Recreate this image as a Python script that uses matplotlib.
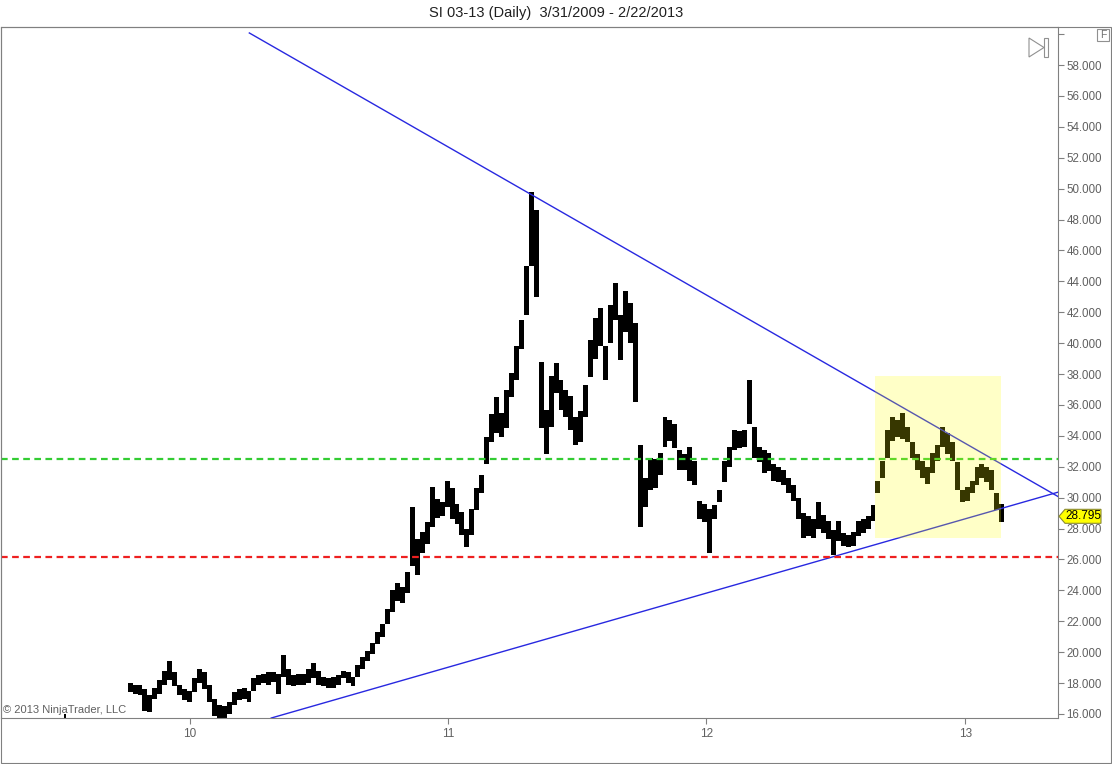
'''
Script used to recreate the NinjaTrader daily chart of SI 03-13 (silver futures)
'''
import pandas as pd
import matplotlib
matplotlib.use('Agg')
import matplotlib.pyplot as plt
import matplotlib.dates as mdates
from matplotlib.patches import Polygon, Rectangle

# ---------------------------------
# weekly price ranges, weeks start on Monday
week_start = '2009-10-05'
week_low   = [
    17.4, 17.3, 17.2, 16.2, 16.1, 17.0, 17.3, 17.9, 18.2, 17.8,
    17.2, 16.9, 16.8, 17.4, 18.0, 17.6, 16.8, 15.9, 15.6, 15.7,
    16.0, 16.6, 16.9, 17.0, 16.8, 17.5, 17.9, 18.0, 17.9, 18.1,
    17.3, 18.4, 17.9, 17.8, 17.9, 17.9, 18.0, 18.3, 17.9, 17.8,
    17.7, 17.7, 17.9, 18.3, 18.0, 17.8, 18.4, 18.9, 19.4, 19.9,
    20.5, 21.0, 21.8, 22.6, 23.3, 23.2, 23.8, 25.6, 25.0, 26.4,
    27.0, 28.1, 28.7, 28.8, 29.4, 28.6, 28.3, 27.6, 26.8, 27.6,
    29.2, 30.3, 32.2, 33.6, 34.2, 33.9, 34.5, 36.5, 37.6, 39.6,
    41.8, 45.0, 43.0, 34.5, 32.8, 34.6, 36.8, 35.7, 35.2, 34.4,
    33.4, 33.6, 35.2, 37.8, 39.0, 39.8, 37.6, 40.0, 41.5, 38.9,
    40.7, 40.0, 36.2, 28.1, 29.4, 30.5, 30.6, 31.5, 33.3, 33.7,
    33.2, 31.8, 31.8, 31.1, 30.8, 28.6, 28.4, 26.4, 28.6, 29.7,
    31.0, 32.0, 33.1, 33.2, 33.3, 34.8, 32.6, 32.3, 31.6, 31.7,
    31.1, 31.0, 30.8, 30.3, 29.8, 28.6, 27.4, 27.5, 27.4, 28.0,
    27.7, 27.3, 26.3, 27.2, 26.9, 26.8, 26.9, 27.5, 27.7, 28.0,
    28.5, 30.3, 31.3, 32.6, 33.7, 33.9, 33.8, 33.6, 32.6, 31.8,
    31.3, 30.9, 31.6, 32.4, 33.3, 32.8, 32.4, 30.5, 29.7, 29.8,
    30.3, 30.8, 31.3, 31.0, 30.5, 29.2, 28.4,
]
week_high  = [
    18.0, 17.9, 17.9, 17.6, 17.2, 17.7, 18.2, 18.8, 19.4, 18.7,
    17.9, 17.6, 17.5, 18.3, 18.9, 18.7, 17.9, 17.0, 16.6, 16.5,
    16.8, 17.4, 17.6, 17.7, 17.5, 18.3, 18.5, 18.6, 18.7, 18.7,
    18.6, 19.8, 18.9, 18.5, 18.6, 18.6, 18.9, 19.3, 18.8, 18.4,
    18.3, 18.4, 18.5, 18.8, 18.7, 18.4, 19.2, 19.7, 20.1, 20.6,
    21.3, 21.8, 22.8, 24.0, 24.5, 24.2, 25.2, 29.4, 27.3, 27.8,
    28.4, 30.7, 29.9, 29.7, 31.1, 30.6, 29.6, 29.1, 28.0, 29.3,
    30.6, 31.5, 33.9, 35.4, 36.5, 35.5, 37.0, 38.1, 39.8, 41.5,
    45.0, 49.8, 48.6, 38.8, 35.7, 37.9, 38.7, 37.6, 37.0, 36.6,
    35.2, 35.6, 37.3, 40.2, 41.6, 42.3, 39.8, 42.5, 43.9, 41.8,
    43.4, 42.6, 41.3, 33.4, 31.3, 32.6, 32.5, 32.9, 35.2, 35.0,
    34.8, 33.1, 32.8, 33.3, 32.4, 29.8, 29.6, 29.3, 29.5, 30.5,
    32.4, 33.3, 34.4, 34.3, 34.4, 37.6, 34.6, 33.3, 33.1, 32.9,
    32.2, 32.0, 31.8, 31.3, 30.8, 30.0, 29.0, 28.8, 28.6, 29.7,
    28.9, 28.5, 27.9, 28.5, 27.7, 27.6, 27.8, 28.5, 28.6, 28.8,
    29.5, 31.1, 32.4, 34.4, 35.2, 35.0, 35.5, 34.6, 33.6, 32.8,
    32.4, 32.0, 32.9, 33.4, 34.6, 34.2, 33.6, 32.3, 30.5, 30.7,
    31.1, 32.0, 32.2, 32.0, 31.8, 30.3, 29.6,
]
early_day   = '2009-07-07'
early_low   = 15.75
early_high  = 16.0

last_price  = 28.795
support     = 26.15
resistance  = 32.48

upper_dates  = ['2010-03-26', '2013-05-13']
upper_prices = [60.08, 30.05]
lower_dates  = ['2010-04-26', '2013-05-13']
lower_prices = [15.74, 30.37]

box_dates  = ['2012-08-26', '2013-02-21']
box_prices = [27.4, 37.9]

year_ticks  = ['2010-01-01', '2011-01-01', '2012-01-01', '2013-01-01']
price_ticks = list(range(16, 61, 2))

title = 'SI 03-13 (Daily)  3/31/2009 - 2/22/2013'
# ---------------------------------
class Data:
    '''
    Layout settings
    '''
    width    : int   = 1112
    height   : int   = 764
    axis_col : str   = '#808080'
    text_col : str   = '#606060'
    font     : str   = 'Liberation Sans'
    xmin     : str   = '2009-04-09'
    xmax     : str   = '2013-05-12'
    ymin     : float = 15.741
    ymax     : float = 60.466
# ---------------------------------
def _fig_x(px : float) -> float:
    return px / Data.width
# ---------------------------------
def _fig_y(py : float) -> float:
    return 1 - py / Data.height
# ---------------------------------
def _make_axes():
    plt.rcParams['font.family'] = [Data.font, 'DejaVu Sans']
    fig = plt.figure(figsize=(Data.width / 100, Data.height / 100), dpi=100)
    ax  = fig.add_axes([_fig_x(1), _fig_y(718), _fig_x(1057), _fig_y(27) - _fig_y(718)])

    return fig, ax
# ---------------------------------
def _plot_bars(ax) -> None:
    dates  = pd.date_range(week_start, periods=len(week_low), freq='W-MON')
    lows   = pd.Series(week_low)
    highs  = pd.Series(week_high)
    ax.bar(dates, highs - lows, bottom=lows, width=7, align='edge',
           color='black', linewidth=0, zorder=2)

    ax.bar([pd.Timestamp(early_day)], [early_high - early_low], bottom=[early_low],
           width=3, align='edge', color='black', linewidth=0, zorder=2)
# ---------------------------------
def _plot_lines(ax) -> None:
    ax.plot(pd.to_datetime(upper_dates), upper_prices, color='#2828e0', lw=1.0, zorder=3)
    ax.plot(pd.to_datetime(lower_dates), lower_prices, color='#2828e0', lw=1.0, zorder=3)

    ax.axhline(resistance, color='#33cc33', lw=1.6, dashes=(3, 2), zorder=3)
    ax.axhline(support   , color='#ee2020', lw=1.6, dashes=(3, 2), zorder=3)

    x0, x1 = mdates.date2num(pd.to_datetime(box_dates))
    rect   = Rectangle((x0, box_prices[0]), x1 - x0, box_prices[1] - box_prices[0],
                       facecolor='#ffff00', alpha=0.22, linewidth=0, zorder=4)
    ax.add_patch(rect)
# ---------------------------------
def _format_axes(ax) -> None:
    ax.set_xlim(pd.Timestamp(Data.xmin), pd.Timestamp(Data.xmax))
    ax.set_ylim(Data.ymin, Data.ymax)

    ax.set_xticks(pd.to_datetime(year_ticks))
    ax.xaxis.set_major_formatter(mdates.DateFormatter('%y'))

    ax.yaxis.tick_right()
    ax.set_yticks(price_ticks)
    ax.set_yticklabels([f'{val:.3f}' if val < 60 else '' for val in price_ticks])

    ax.tick_params(axis='both', colors=Data.axis_col, labelcolor=Data.text_col,
                   labelsize=8.3, length=4, width=0.8, direction='out', pad=2)
    ax.tick_params(axis='x', labelsize=8.5, pad=3)

    for spine in ax.spines.values():
        spine.set_color(Data.axis_col)
        spine.set_linewidth(0.8)
# ---------------------------------
def _add_marker(ax) -> None:
    trans = ax.get_yaxis_transform()
    unit  = 1 / 1057
    half  = 7 / 15.45
    pts   = [(1 + 1 * unit, last_price),
             (1 + 7 * unit, last_price + half),
             (1 + 43 * unit, last_price + half),
             (1 + 43 * unit, last_price - half),
             (1 + 7 * unit, last_price - half)]
    ax.add_patch(Polygon(pts, closed=True, transform=trans, clip_on=False,
                         facecolor='#ffff00', edgecolor='#8a8a30', lw=0.8, zorder=6))
    ax.text(1 + 25 * unit, last_price, f'{last_price:.3f}', transform=trans,
            ha='center', va='center', fontsize=8.5, color='black', zorder=7)
# ---------------------------------
def _add_decorations(fig, ax) -> None:
    fig.text(0.5, _fig_y(13), title, ha='center', va='center', fontsize=10.5, color='#202020')

    ax.text(0.002, 0.005, '\u00a9 2013 NinjaTrader, LLC', transform=ax.transAxes,
            ha='left', va='bottom', fontsize=8, color=Data.text_col, zorder=5)

    fig.add_artist(Rectangle((_fig_x(1), _fig_y(763)), _fig_x(1110), _fig_y(27) - _fig_y(763),
                             transform=fig.transFigure, fill=False, ec=Data.axis_col, lw=0.8))

    tri = [(_fig_x(1029), _fig_y(38)), (_fig_x(1029), _fig_y(57)), (_fig_x(1044), _fig_y(47.5))]
    fig.add_artist(Polygon(tri, closed=True, transform=fig.transFigure, fill=False,
                           ec='#909090', lw=0.8))
    fig.add_artist(Rectangle((_fig_x(1044), _fig_y(57)), _fig_x(4), _fig_y(38) - _fig_y(57),
                             transform=fig.transFigure, fill=False, ec='#909090', lw=0.8))

    fig.add_artist(Rectangle((_fig_x(1097), _fig_y(41)), _fig_x(12), _fig_y(29) - _fig_y(41),
                             transform=fig.transFigure, fill=False, ec='#909090', lw=0.8))
    fig.text(_fig_x(1103), _fig_y(35), 'F', ha='center', va='center', fontsize=7.5, color='#707070')
# ---------------------------------
def main():
    '''
    start here
    '''
    fig, ax = _make_axes()
    _plot_bars(ax)
    _plot_lines(ax)
    _format_axes(ax)
    _add_marker(ax)
    _add_decorations(fig, ax)

    fig.savefig('out.png', dpi=100)
    plt.close(fig)
# ---------------------------------
if __name__ == '__main__':
    main()
